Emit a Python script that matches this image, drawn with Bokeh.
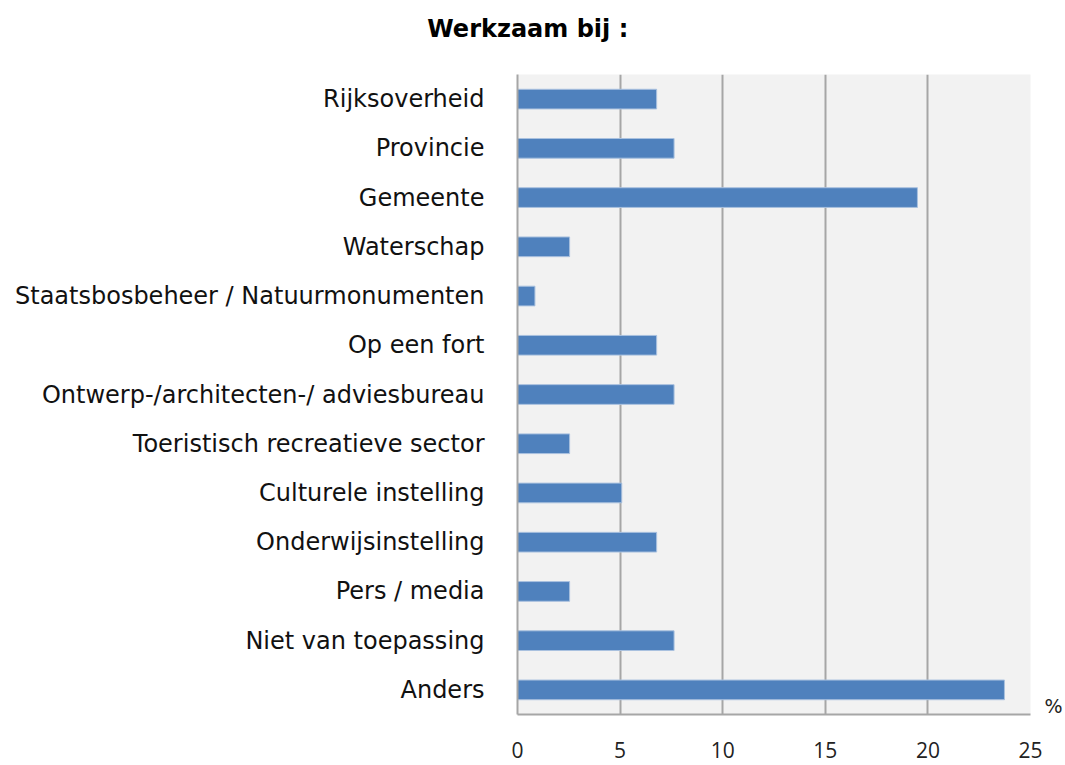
from bokeh.plotting import figure
from bokeh.models import Range1d, LinearAxis, FixedTicker, ColumnDataSource
from bokeh.embed import file_html
from bokeh.resources import INLINE

categories = [
    "Rijksoverheid",
    "Provincie",
    "Gemeente",
    "Waterschap",
    "Staatsbosbeheer / Natuurmonumenten",
    "Op een fort",
    "Ontwerp-/architecten-/ adviesbureau",
    "Toeristisch recreatieve sector",
    "Culturele instelling",
    "Onderwijsinstelling",
    "Pers / media",
    "Niet van toepassing",
    "Anders",
]
values = [6.78, 7.63, 19.49, 2.54, 0.85, 6.78, 7.63, 2.54, 5.08, 6.78, 2.54, 7.63, 23.73]
x_ticks = [0, 5, 10, 15, 20, 25]
title_text = "Werkzaam bij :"
unit_label = "%"

n = len(categories)
# first category at the top: integer slot positions, top slot = n-1
ypos = [n - 1 - i for i in range(n)]
src = ColumnDataSource(dict(y=ypos, val=values, cat=categories))

p = figure(
    width=1065, height=765,
    y_range=Range1d(-0.5, n - 0.5),
    x_range=Range1d(0, 25),
    output_backend="svg", toolbar_location=None,
    min_border_left=517, min_border_right=34,
    min_border_top=74, min_border_bottom=51,
)

p.hbar(y="y", right="val", height=0.4, source=src,
       fill_color="#4F81BD", line_color="#A9C1DF", line_width=1)

p.title.visible = False

p.background_fill_color = "#F2F2F2"
p.border_fill_color = "#FFFFFF"
p.outline_line_color = None

p.xaxis.ticker = x_ticks
p.xaxis.major_tick_line_color = None
p.xaxis.minor_tick_line_color = None
p.xaxis.axis_line_color = "#A6A6A6"
p.xaxis.axis_line_width = 2
p.xaxis.major_label_standoff = 21
p.xaxis.major_label_text_font = "Open Sans"
p.xaxis.major_label_text_font_size = "21px"
p.xaxis.major_label_text_color = "#222222"

p.yaxis.ticker = FixedTicker(ticks=ypos)
p.yaxis.major_label_overrides = {y: c for y, c in zip(ypos, categories)}
p.yaxis.major_tick_line_color = None
p.yaxis.minor_tick_line_color = None
p.yaxis.axis_line_color = "#A6A6A6"
p.yaxis.axis_line_width = 2
p.yaxis.major_label_standoff = 27
p.yaxis.major_label_text_font = "DejaVu Sans"
p.yaxis.major_label_text_font_size = "24px"
p.yaxis.major_label_text_color = "#111111"

p.ygrid.grid_line_color = None
p.xgrid.ticker = x_ticks
p.xgrid.grid_line_color = "#A6A6A6"
p.xgrid.grid_line_width = 2

# chart title: drawn as the single label of an unlined axis above the plot
title_anchor = 0.5
title_axis = LinearAxis(ticker=FixedTicker(ticks=[title_anchor]),
                        major_label_overrides={title_anchor: title_text})
title_axis.axis_line_color = None
title_axis.major_tick_line_color = None
title_axis.minor_tick_line_color = None
title_axis.major_tick_out = 0
title_axis.major_tick_in = 0
title_axis.major_label_standoff = 32
title_axis.major_label_text_font = "DejaVu Sans"
title_axis.major_label_text_font_size = "24px"
title_axis.major_label_text_font_style = "bold"
title_axis.major_label_text_color = "#000000"
p.add_layout(title_axis, "above")

# unit label "%" on the right, just above the bottom of the plot area
unit_pos = -0.32
unit_axis = LinearAxis(ticker=FixedTicker(ticks=[unit_pos]),
                       major_label_overrides={unit_pos: unit_label})
unit_axis.axis_line_color = None
unit_axis.major_tick_line_color = None
unit_axis.minor_tick_line_color = None
unit_axis.major_tick_out = 0
unit_axis.major_tick_in = 0
unit_axis.major_label_standoff = 14
unit_axis.major_label_text_font = "DejaVu Sans"
unit_axis.major_label_text_font_size = "19px"
unit_axis.major_label_text_color = "#222222"
p.add_layout(unit_axis, "right")

open("out.html", "w").write(file_html(p, INLINE))
